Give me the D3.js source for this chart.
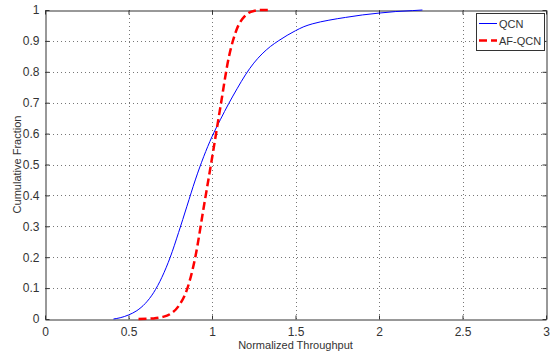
<!DOCTYPE html>
<html><head><meta charset="utf-8">
<script src="https://cdn.jsdelivr.net/npm/d3@7"></script>
<style>
body{margin:0;background:#fff;}
text{font-family:"Liberation Sans",Arial,sans-serif;}
</style></head>
<body><svg id="c" width="553" height="355"></svg>
<script>
const xTicks = [0, 0.5, 1, 1.5, 2, 2.5, 3];
const xTickLabels = ["0", "0.5", "1", "1.5", "2", "2.5", "3"];
const yTicks = [0, 0.1, 0.2, 0.3, 0.4, 0.5, 0.6, 0.7, 0.8, 0.9, 1];
const yTickLabels = ["0", "0.1", "0.2", "0.3", "0.4", "0.5", "0.6", "0.7", "0.8", "0.9", "1"];
const seriesNames = ["QCN", "AF-QCN"];
const qcnX = [0.41, 0.45, 0.5, 0.55, 0.6, 0.65, 0.7, 0.75, 0.8, 0.85, 0.9, 0.95, 1.0, 1.05, 1.1, 1.15, 1.2, 1.25, 1.3, 1.35, 1.4, 1.45, 1.5, 1.55, 1.6, 1.7, 1.8, 1.9, 2.0, 2.1, 2.2, 2.26];
const qcnY = [0, 0.004, 0.013, 0.027, 0.05, 0.085, 0.135, 0.2, 0.28, 0.365, 0.45, 0.525, 0.59, 0.645, 0.697, 0.745, 0.79, 0.828, 0.858, 0.882, 0.901, 0.918, 0.933, 0.946, 0.955, 0.967, 0.976, 0.984, 0.99, 0.995, 0.998, 1.0];
const afX = [0.56, 0.65, 0.7, 0.75, 0.8, 0.85, 0.9, 0.95, 1.0, 1.05, 1.1, 1.15, 1.2, 1.25, 1.3, 1.35];
const afY = [0, 0.002, 0.006, 0.016, 0.042, 0.095, 0.2, 0.36, 0.52, 0.685, 0.845, 0.94, 0.982, 0.997, 1.0, 1.0];

const svg = d3.select("#c");
const L = 45, R = 546, T = 10, B = 319;
const x = d3.scaleLinear().domain([0, 3]).range([L, R]);
const y = d3.scaleLinear().domain([0, 1]).range([B, T]);

// grid
const g = svg.append("g");
g.selectAll(".gx").data(xTicks.slice(1, -1)).enter().append("line")
  .attr("x1", d => Math.round(x(d)) + 0.5).attr("x2", d => Math.round(x(d)) + 0.5).attr("y1", T).attr("y2", B)
  .attr("stroke", "#777").attr("stroke-width", 1).attr("stroke-dasharray", "1,3");
g.selectAll(".gy").data(yTicks.slice(1, -1)).enter().append("line")
  .attr("y1", d => Math.round(y(d)) + 0.5).attr("y2", d => Math.round(y(d)) + 0.5).attr("x1", L).attr("x2", R)
  .attr("stroke", "#777").attr("stroke-width", 1).attr("stroke-dasharray", "1,3");

// axes
const ax = svg.append("g").attr("transform", `translate(0,${B + 0.5})`)
  .call(d3.axisBottom(x).tickValues(xTicks).tickFormat((d, i) => xTickLabels[i]).tickSizeInner(-4).tickSizeOuter(0).tickPadding(8));
const ay = svg.append("g").attr("transform", `translate(${L + 0.5},0)`)
  .call(d3.axisLeft(y).tickValues(yTicks).tickFormat((d, i) => yTickLabels[i]).tickSizeInner(-4).tickSizeOuter(0).tickPadding(6));
const axTop = svg.append("g").attr("transform", `translate(0,${T + 0.5})`)
  .call(d3.axisTop(x).tickValues(xTicks).tickFormat("").tickSizeInner(-4).tickSizeOuter(0));
const ayR = svg.append("g").attr("transform", `translate(${R + 0.5},0)`)
  .call(d3.axisRight(y).tickValues(yTicks).tickFormat("").tickSizeInner(-4).tickSizeOuter(0));
[ax, ay, axTop, ayR].forEach(a => {
  a.selectAll("path").attr("stroke", "#333");
  a.selectAll("line").attr("stroke", "#333");
  a.selectAll("text").attr("font-size", 12).attr("fill", "#333");
});

// lines
const line = d3.line().x(d => x(d[0])).y(d => y(d[1])).curve(d3.curveMonotoneX);
svg.append("path").datum(qcnX.map((v, i) => [v, qcnY[i]]))
  .attr("d", line).attr("fill", "none").attr("stroke", "#0000ff").attr("stroke-width", 1);
svg.append("path").datum(afX.map((v, i) => [v, afY[i]]))
  .attr("d", line).attr("fill", "none").attr("stroke", "#ff0000").attr("stroke-width", 2.5).attr("stroke-dasharray", "8,4");

// axis labels
svg.append("text").attr("x", (L + R) / 2).attr("y", 349).attr("text-anchor", "middle")
  .attr("font-size", 11).attr("fill", "#333").text("Normalized Throughput");
svg.append("text").attr("transform", `translate(21,${(T + B) / 2}) rotate(-90)`).attr("text-anchor", "middle")
  .attr("font-size", 11).attr("fill", "#333").text("Cumulative Fraction");

// legend
const lg = svg.append("g");
lg.append("rect").attr("x", 476.5).attr("y", 13.5).attr("width", 68).attr("height", 37)
  .attr("fill", "#fff").attr("stroke", "#333").attr("stroke-width", 1);
const colors = ["#0000ff", "#ff0000"];
const widths = [1, 2.5];
const dashes = [null, "8,4"];
seriesNames.forEach((n, i) => {
  const yy = 23.5 + i * 17;
  lg.append("line").attr("x1", 479).attr("x2", 497).attr("y1", yy).attr("y2", yy)
    .attr("stroke", colors[i]).attr("stroke-width", widths[i]).attr("stroke-dasharray", dashes[i]);
  lg.append("text").attr("x", 499).attr("y", yy + 4).attr("font-size", 11).attr("fill", "#333").text(n);
});
</script></body></html>
